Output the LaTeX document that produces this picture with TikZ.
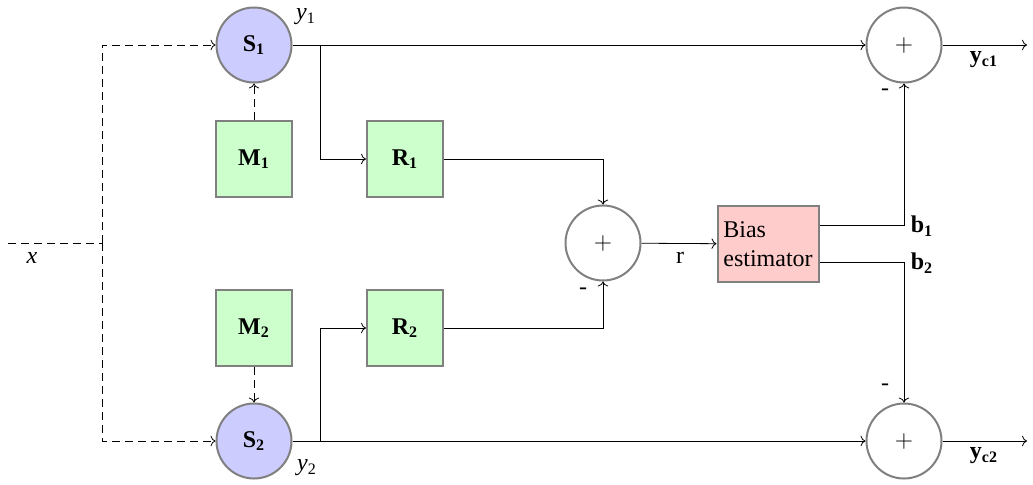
\documentclass[tikz,border=0pt,12pt]{standalone}
\usepackage{fontspec}
\setmainfont{Liberation Serif}
\usetikzlibrary{positioning}
\usetikzlibrary{arrows.meta}
\definecolor{cS}{rgb}{0.80, 0.80, 1.00}
\definecolor{cM}{rgb}{0.80, 1.00, 0.80}
\definecolor{cB}{rgb}{1.00, 0.80, 0.80}
\tikzset{
  sensor/.style={circle, draw=gray, fill=cS, line width=1pt, minimum size=37.5pt, inner sep=0pt, font=\bfseries},
  block/.style={rectangle, draw=gray, fill=cM, line width=1pt, minimum size=38pt, inner sep=0pt, font=\bfseries},
  sumnode/.style={circle, draw=gray, line width=1pt, minimum size=37.5pt, inner sep=0pt},
  estim/.style={rectangle, draw=gray, fill=cB, line width=1pt, minimum width=50.5pt, minimum height=38pt, inner sep=2pt, align=left},
  lbl/.style={inner sep=0pt},
  edge/.style = {->, line width=0.4pt},
  edged/.style = {->, line width=0.4pt, dash pattern=on 4pt off 2.5pt},
}

\begin{document}
\begin{tikzpicture}[x=0.5pt, y=-0.5pt]
\useasboundingbox (0,0) rectangle (1033,484);

% sensors and models
\node[sensor] (s1) at (254,45) {S\textsubscript{1}};
\node[sensor] (s2) at (254,441) {S\textsubscript{2}};
\node[block] (m1) at (254,159) {M\textsubscript{1}};
\node[block] (m2) at (254,328) {M\textsubscript{2}};
\node[block] (r1) at (405,159) {R\textsubscript{1}};
\node[block] (r2) at (405,328) {R\textsubscript{2}};

\node[sumnode] (sum) at (603,243) {$+$};
\node[estim] (bias) at (768,244) {Bias\\estimator};

\node[sumnode] (c1) at (904,45) {$+$};
\node[sumnode] (c2) at (904,441) {$+$};

\coordinate (xin) at (8,243);
\coordinate (xsplit) at (102,243);
\coordinate (br1) at (320,45);
\coordinate (br2) at (320,441);
\coordinate (out1) at (1027,45);
\coordinate (out2) at (1027,441);

% labels
\node[lbl] (lx) at (32,258) {\textit{x}};
\node[lbl] (ly1) at (306,17) {\textit{y}\textsubscript{1}};
\node[lbl] (ly2) at (307,468) {\textit{y}\textsubscript{2}};
\node[lbl] (lr) at (680,258) {r};
\node[lbl] (lb1) at (922,226) {\textbf{b\textsubscript{1}}};
\node[lbl] (lb2) at (922,263) {\textbf{b\textsubscript{2}}};
\node[lbl] (lyc1) at (984,60) {\textbf{y\textsubscript{c1}}};
\node[lbl] (lyc2) at (984,456) {\textbf{y\textsubscript{c2}}};
\node[lbl] (n0) at (583,291) {-};
\node[lbl] (n1) at (885,92) {-};
\node[lbl] (n2) at (885,387) {-};

% input x
\draw[dash pattern=on 4pt off 2.5pt] (xin) -- (xsplit);
\draw[edged] (xsplit) |- (s1);
\draw[edged] (xsplit) |- (s2);
\draw[edged] (m1) -- (s1);
\draw[edged] (m2) -- (s2);

% outputs
\draw[edge] (s1) -- (c1);
\draw[edge] (s2) -- (c2);
\draw[edge] (br1) |- (r1);
\draw[edge] (br2) |- (r2);
\draw[edge] (r1) -| (sum);
\draw[edge] (r2) -| (sum);
\draw[edge] (sum) -- (bias);
\draw[edge] ([yshift=9.5pt]bias.east) -| (c1);
\draw[edge] ([yshift=-9pt]bias.east) -| (c2);
\draw[edge] (c1) -- (out1);
\draw[edge] (c2) -- (out2);

\end{tikzpicture}
\end{document}
